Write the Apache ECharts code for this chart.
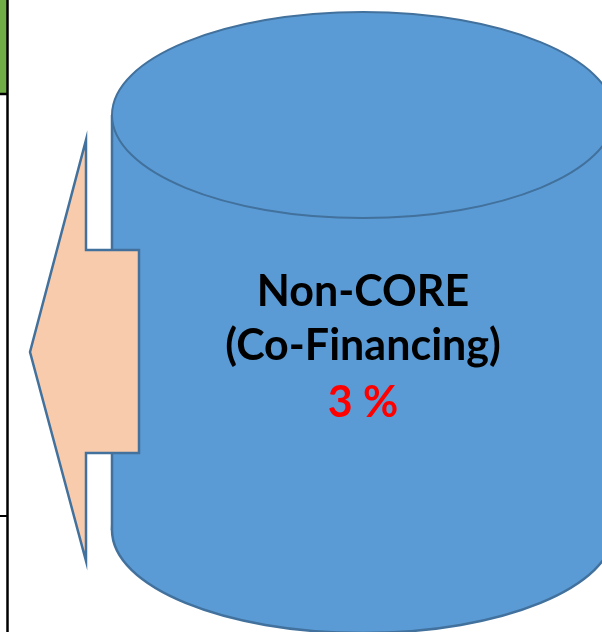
<!DOCTYPE html>
<html>
<head>
<meta charset="utf-8">
<script src="https://cdn.jsdelivr.net/npm/echarts@6/dist/echarts.min.js"></script>
<style>
  html, body { margin: 0; padding: 0; background: #ffffff; }
  #main { width: 602px; height: 632px; }
</style>
</head>
<body>
<div id="main"></div>
<script>
// text in the cylinder
var titleLines = ['Non-CORE', '(Co-Financing)'];
var shareValue = [3];

var chart = echarts.init(document.getElementById('main'));

var blue = '#5B9BD5';
var edge = '#41719C';
var font = 'Lato, "Open Sans", sans-serif';

// cylinder geometry
var cx = 363, rx = 251, ry = 103, topY = 115, botY = 530;

var elements = [
    // green cell and table lines at the left border
    {type: 'rect', shape: {x: 0, y: 0, width: 7, height: 93}, style: {fill: '#70AD47'}, z: 1},
    {type: 'line', shape: {x1: 7.5, y1: 0, x2: 7.5, y2: 632}, style: {stroke: '#000', lineWidth: 2.5}, z: 2},
    {type: 'line', shape: {x1: 0, y1: 94, x2: 8, y2: 94}, style: {stroke: '#000', lineWidth: 2.5}, z: 2},
    {type: 'line', shape: {x1: 0, y1: 516, x2: 8, y2: 516}, style: {stroke: '#000', lineWidth: 2}, z: 2},

    // cylinder
    {type: 'ellipse', shape: {cx: cx, cy: botY, rx: rx, ry: ry}, style: {fill: blue, stroke: edge, lineWidth: 2.5}, z: 3},
    {type: 'rect', shape: {x: cx - rx, y: topY, width: rx * 2, height: botY - topY}, style: {fill: blue}, z: 4},
    {type: 'line', shape: {x1: cx - rx, y1: topY, x2: cx - rx, y2: botY}, style: {stroke: edge, lineWidth: 2.5}, z: 5},
    {type: 'ellipse', shape: {cx: cx, cy: topY, rx: rx, ry: ry}, style: {fill: blue, stroke: edge, lineWidth: 2}, z: 6},

    // arrow pointing left
    {
        type: 'polygon',
        shape: {points: [[30, 352], [86, 140], [86, 250], [139, 250], [139, 453], [86, 453], [86, 561]]},
        style: {fill: '#F8CBAD', stroke: edge, lineWidth: 2.5, lineJoin: 'miter'},
        z: 7
    },

    // labels
    {type: 'text', x: cx, y: 292, style: {text: titleLines[0], fill: '#000', font: 'bold 43px ' + font, align: 'center', verticalAlign: 'middle'}, z: 8},
    {type: 'text', x: cx, y: 346, style: {text: titleLines[1], fill: '#000', font: 'bold 43px ' + font, align: 'center', verticalAlign: 'middle'}, z: 8},
    {type: 'text', x: cx, y: 403, style: {text: shareValue[0] + ' %', fill: '#FF0000', font: 'bold 43px ' + font, align: 'center', verticalAlign: 'middle'}, z: 8}
];

chart.setOption({
    animation: false,
    backgroundColor: '#ffffff',
    graphic: {elements: elements}
});
</script>
</body>
</html>
